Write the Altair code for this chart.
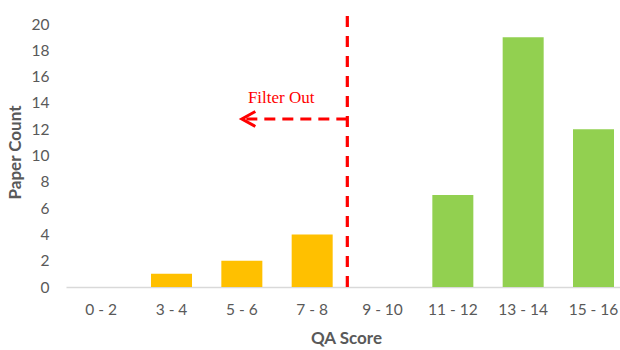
import altair as alt
import pandas as pd

# QA score bins and the number of papers in each
score_bins = ["0 - 2", "3 - 4", "5 - 6", "7 - 8", "9 - 10", "11 - 12", "13 - 14", "15 - 16"]
paper_counts = [0, 1, 2, 4, 0, 7, 19, 12]
status = ["Filtered", "Filtered", "Filtered", "Filtered", "Kept", "Kept", "Kept", "Kept"]
y_ticks = [0, 2, 4, 6, 8, 10, 12, 14, 16, 18, 20]

bars_df = pd.DataFrame({"score": score_bins, "count": paper_counts, "status": status})

FONT = "Lato"
TEXT_GREY = "#595959"
RED = "#FF0000"

x_scale = alt.Scale(domain=score_bins, paddingInner=0.417, paddingOuter=0.147, align=0.71)
y_scale = alt.Scale(domain=[0, 20], nice=False)
# bin-index scale for the annotations: index i sits on the centre of bin i
idx_scale = alt.Scale(domain=[-0.5, 7.377], nice=False, zero=False)

# one shared y axis definition so every layer agrees on it
y_axis = alt.Axis(
    title="Paper Count",
    values=y_ticks,
    tickCount=11,
    grid=False,
    domain=False,
    ticks=False,
    tickSize=0,
    labelPadding=17,
    labelFontSize=15.5,
    labelColor=TEXT_GREY,
    labelFont=FONT,
    labelOverlap=False,
    titleFont=FONT,
    titleFontSize=17,
    titleFontWeight="bold",
    titleColor=TEXT_GREY,
    titleAngle=-90,
    titleX=-51,
    titleY=128,
    titleBaseline="middle",
    titleAlign="center",
)

bars = alt.Chart(bars_df).mark_bar().encode(
    x=alt.X(
        "score:N",
        sort=score_bins,
        scale=x_scale,
        axis=alt.Axis(
            title="QA Score",
            labelAngle=0,
            ticks=False,
            tickSize=0,
            labelPadding=15,
            labelFontSize=15.5,
            labelColor=TEXT_GREY,
            labelFont=FONT,
            labelOverlap=False,
            domainColor="#D9D9D9",
            domainWidth=1.5,
            titleFont=FONT,
            titleFontSize=17,
            titleFontWeight="bold",
            titleColor=TEXT_GREY,
            titleX=280,
            titleY=51,
            titleBaseline="middle",
        ),
    ),
    y=alt.Y("count:Q", scale=y_scale, axis=y_axis),
    color=alt.Color(
        "status:N",
        scale=alt.Scale(domain=["Filtered", "Kept"], range=["#FFC000", "#92D050"]),
        legend=None,
    ),
)

# Threshold line halfway between the 7 - 8 and 9 - 10 bins
cut_df = pd.DataFrame({"pos": [3.5], "base": [0], "top": [21.1]})
cut_line = alt.Chart(cut_df).mark_rule(color=RED, strokeWidth=3.2, strokeDash=[11, 9]).encode(
    x=alt.X("pos:Q", scale=idx_scale, axis=None),
    y=alt.Y("base:Q", scale=y_scale, axis=y_axis),
    y2="top:Q",
)

# Dashed arrow pointing back at the filtered bins
arrow_df = pd.DataFrame({"start": [3.5], "tip": [2.0], "y": [12.78]})
arrow_shaft = alt.Chart(arrow_df).mark_rule(color=RED, strokeWidth=3, strokeDash=[11, 7]).encode(
    x=alt.X("start:Q", scale=idx_scale, axis=None),
    x2="tip:Q",
    y=alt.Y("y:Q", scale=y_scale, axis=y_axis),
)
arrow_head = alt.Chart(arrow_df).mark_point(
    shape="M1.8,-1L0,0L1.8,1",
    size=225,
    color=RED,
    strokeWidth=3,
    filled=False,
    opacity=1,
).encode(
    x=alt.X("tip:Q", scale=idx_scale, axis=None),
    y=alt.Y("y:Q", scale=y_scale, axis=y_axis),
)

label_df = pd.DataFrame({"pos": [2.56], "y": [14.4], "text": ["Filter Out"]})
arrow_label = alt.Chart(label_df).mark_text(
    font="Liberation Serif", fontSize=17, color=RED, align="center", baseline="middle"
).encode(
    x=alt.X("pos:Q", scale=idx_scale, axis=None),
    y=alt.Y("y:Q", scale=y_scale, axis=y_axis),
    text="text:N",
)

annotations = alt.layer(cut_line, arrow_shaft, arrow_head, arrow_label)

chart = (
    alt.layer(bars, annotations)
    .resolve_scale(x="independent")
    .properties(
        width=554,
        height=263,
        padding={"left": 66, "top": 24, "right": 0, "bottom": 63},
        autosize=alt.AutoSizeParams(type="none"),
        background="white",
    )
    .configure_view(stroke=None)
)

chart.save("out.html", embed_options={"renderer": "svg", "actions": False})
